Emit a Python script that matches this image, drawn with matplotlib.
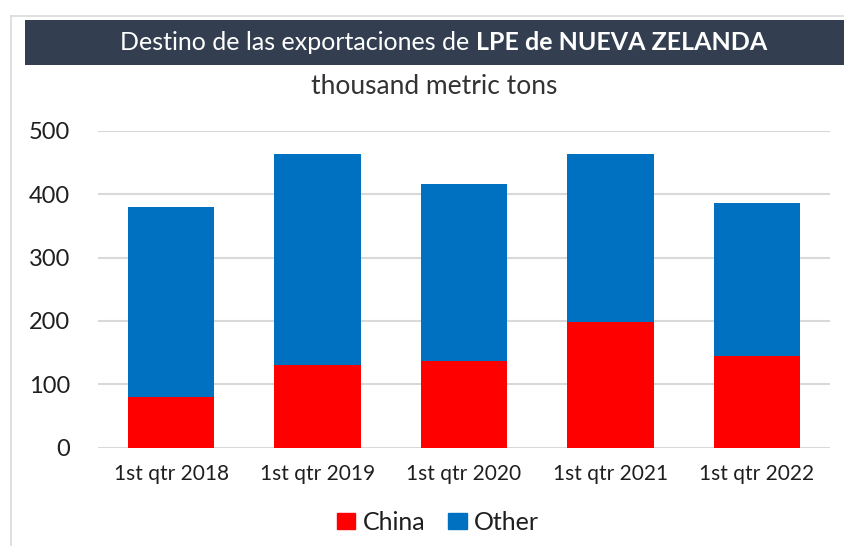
import matplotlib
matplotlib.use("Agg")
import matplotlib.pyplot as plt
from matplotlib.patches import Rectangle, Patch
from matplotlib.lines import Line2D
import numpy as np

categories = ["1st qtr 2018", "1st qtr 2019", "1st qtr 2020", "1st qtr 2021", "1st qtr 2022"]
china = [80, 130, 137, 198, 145]
other_total = [380, 463, 416, 463, 386]
other = [t - c for t, c in zip(other_total, china)]
yticks = [0, 100, 200, 300, 400, 500]

FONT = ["Lato", "DejaVu Sans"]
plt.rcParams['font.family'] = FONT

W, H = 845, 546
fig = plt.figure(figsize=(W / 100, H / 100), dpi=100)

def fx(px):
    return px / W

def fy(py):
    return 1 - py / H

TXT = "#1f1f1f"

# outer frame lines
fig.add_artist(Line2D([fx(11), fx(11)], [fy(16), 0], color="#d9d9d9", lw=1.2))
fig.add_artist(Line2D([fx(11), 1], [fy(16), fy(16)], color="#d9d9d9", lw=1.2))

# title banner
fig.add_artist(Rectangle((fx(25), fy(65)), 1 - fx(25), fy(20) - fy(65),
                         facecolor="#333f50", edgecolor="none"))

# title with normal + bold parts
parts = [("Destino de las exportaciones de ", "normal"), ("LPE de NUEVA ZELANDA", "bold")]
fig.canvas.draw()
renderer = fig.canvas.get_renderer()
texts = []
widths = []
for s, wgt in parts:
    t = fig.text(0, fy(43), s, color="white", fontsize=18, fontweight=wgt,
                 va="center", ha="left")
    bb = t.get_window_extent(renderer=renderer)
    texts.append(t)
    widths.append(bb.width)
total = sum(widths)
cx = 443.5
x0 = cx - total / 2
for t, w in zip(texts, widths):
    t.set_x(fx(x0))
    x0 += w

fig.text(fx(434), fy(87), "thousand metric tons", color="#333333", fontsize=19,
         ha="center", va="center")

ax = fig.add_axes([fx(98), fy(447.7), fx(830) - fx(98), fy(130.7) - fy(447.7)])
x = np.arange(len(categories))
bw = 0.59
ax.bar(x, china, bw, color="#ff0000", label="China", zorder=3)
ax.bar(x, other, bw, bottom=china, color="#0070c0", label="Other", zorder=3)

ax.set_xlim(-0.5, len(categories) - 0.5)
ax.set_ylim(0, 500)
ax.set_yticks(yticks)
ax.set_yticklabels([str(v) for v in yticks], fontsize=17, color=TXT)
ax.set_xticks(x)
ax.set_xticklabels(categories, fontsize=15, color=TXT)
ax.tick_params(axis="both", length=0)
ax.tick_params(axis="y", pad=20)
ax.tick_params(axis="x", pad=12)
ax.grid(axis="y", color="#d9d9d9", lw=1.5, zorder=0)
for sp in ax.spines.values():
    sp.set_visible(False)

handles = [Patch(color="#ff0000", label="China"), Patch(color="#0070c0", label="Other")]
fig.legend(handles=handles, loc="center", bbox_to_anchor=(fx(438), fy(522)), ncol=2,
           frameon=False, fontsize=18, handlelength=0.75, handleheight=0.62,
           handletextpad=0.3, columnspacing=0.9, labelcolor=TXT,
           borderpad=0, borderaxespad=0)

fig.savefig("out.png", dpi=100)
